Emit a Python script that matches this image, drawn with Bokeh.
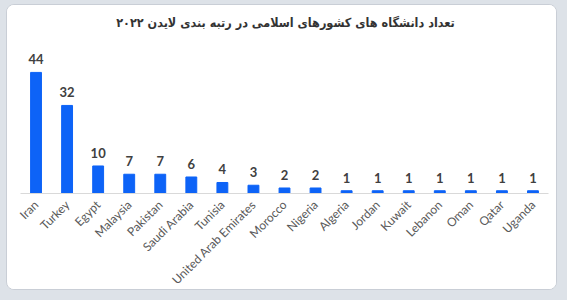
import math
from bokeh.plotting import figure
from bokeh.models import ColumnDataSource, Range1d, Div
from bokeh.layouts import column
from bokeh.core.properties import value
from bokeh.embed import file_html
from bokeh.resources import INLINE

countries = ["Iran", "Turkey", "Egypt", "Malaysia", "Pakistan", "Saudi Arabia", "Tunisia",
             "United Arab Emirates", "Morocco", "Nigeria", "Algeria", "Jordan", "Kuwait",
             "Lebanon", "Oman", "Qatar", "Uganda"]
counts = [44, 32, 10, 7, 7, 6, 4, 3, 2, 2, 1, 1, 1, 1, 1, 1, 1]
title_text = "تعداد دانشگاه های کشورهای اسلامی در رتبه بندی لایدن ۲۰۲۲"

src = ColumnDataSource(dict(x=countries, y=counts, lbl=[str(c) for c in counts]))

title = Div(text=title_text, width=549, height=36,
            styles={"text-align": "center", "direction": "rtl",
                    "font-family": "'DejaVu Sans Condensed', 'DejaVu Sans', sans-serif",
                    "font-weight": "bold", "font-size": "12.5px", "color": "#333333",
                    "line-height": "36px", "width": "549px", "background-color": "white",
                    "padding-left": "8px", "box-sizing": "border-box"})
title.margin = 0

p = figure(x_range=countries, y_range=Range1d(0, 51.6), width=549, height=256,
           output_backend="svg", toolbar_location=None,
           min_border_left=13, min_border_right=8, min_border_top=10, min_border_bottom=104)
p.margin = 0
p.vbar(x="x", top="y", width=0.35, source=src, color="#0d63f7")
p.text(x="x", y="y", text="lbl", source=src, text_align="center", text_baseline="bottom",
       y_offset=-8, text_font=value("Lato"), text_font_size="13px", text_font_style="bold",
       text_color="#404040")

p.yaxis.visible = False
p.xgrid.visible = False
p.ygrid.visible = False
p.outline_line_color = None
p.xaxis.axis_line_color = "#d9d9d9"
p.xaxis.major_tick_line_color = None
p.xaxis.minor_tick_line_color = None
p.xaxis.major_label_orientation = math.pi / 4
p.xaxis.major_label_text_font = "Lato"
p.xaxis.major_label_text_font_size = "12px"
p.xaxis.major_label_text_color = "#595959"
p.xaxis.major_label_standoff = 3
p.x_range.range_padding = 0
p.background_fill_color = "white"
p.border_fill_color = "white"

inner = column(title, p, width=551, height=286,
               styles={"border-radius": "8px", "border": "1px solid #c9ced6",
                       "background-color": "white", "overflow": "hidden"})
inner.margin = (4, 10, 10, 6)
lay = column(inner, width=567, height=300,
             styles={"background-color": "#dde2e8", "overflow": "hidden"})
lay.margin = 0

open("out.html", "w").write(file_html(lay, INLINE))
